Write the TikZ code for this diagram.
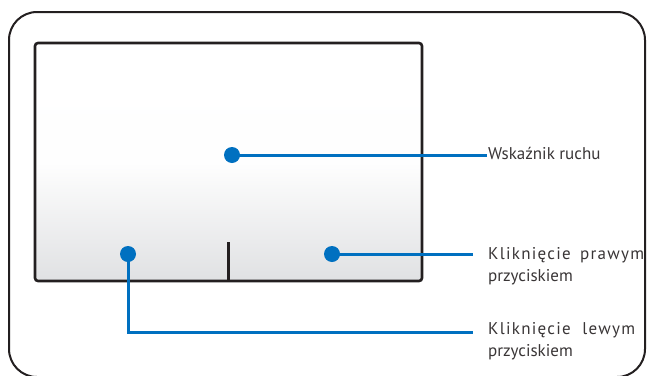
\documentclass[tikz,border=0pt]{standalone}
\usepackage{fontspec}
\setmainfont{PT Sans}
\newfontfamily\spreadfont[LetterSpace=7.5]{PT Sans}
\usetikzlibrary{positioning}
\definecolor{padblue}{RGB}{0,112,192}
\definecolor{padgray}{RGB}{224,225,227}
\definecolor{padline}{RGB}{35,31,32}

\tikzset{
  dot/.style={circle, fill=padblue, inner sep=0pt, minimum size=16pt},
  lead/.style={padblue, line width=3pt},
  callout/.style={anchor=north west, inner sep=0pt, align=left,
    font=\fontsize{17}{22.5}\selectfont, text=padline!90}
}

\begin{document}
\begin{tikzpicture}[x=1pt, y=-1pt]
    \useasboundingbox (0,0) rectangle (647,375);
    % Frame
    \draw[padline, line width=2pt, rounded corners=28pt] (9,12) rectangle (645,377);

    % Touchpad
    \shade[top color=white, bottom color=padgray, middle color=white!97!padgray]
      (35,43) rectangle (422,281);
    \draw[padline, line width=2.6pt, rounded corners=3pt] (35,43) rectangle (422,281);
    \draw[padline, line width=3pt] (228,281) -- (228,242);

    % Points on the pad
    \node[dot] (move) at (232,155) {};
    \node[dot] (left) at (128,254) {};
    \node[dot] (right) at (332,254) {};

    % Labels
    \node[callout, anchor=base west] (movetxt) at (488,159) {Wskaźnik ruchu};
    \node[callout] (righttxt) at (488,247)
      {\makebox[156pt][s]{\spreadfont Kliknięcie prawym}\\przyciskiem};
    \node[callout] (lefttxt) at (488,322)
      {\makebox[147pt][s]{\spreadfont Kliknięcie lewym}\\przyciskiem};

    % Leaders
    \coordinate (moveend) at (487,155);
    \coordinate (rightend) at (473,254);
    \coordinate (leftend) at (473,332);
    \draw[lead] (move.center) -- (moveend);
    \draw[lead] (right.center) -- (rightend);
    \draw[lead] (left.center) |- (leftend);
\end{tikzpicture}
\end{document}
